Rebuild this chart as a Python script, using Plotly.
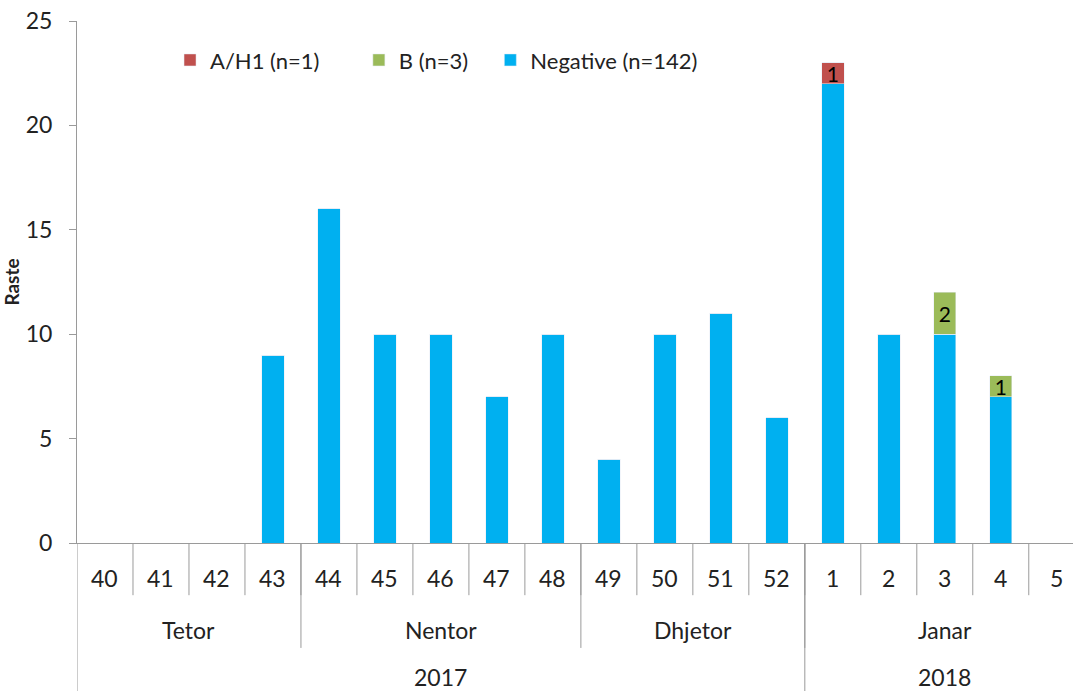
import plotly.graph_objects as go

# ---------- DATA ----------
weeks = ["40", "41", "42", "43", "44", "45", "46", "47", "48",
         "49", "50", "51", "52", "1", "2", "3", "4", "5"]
negative = [0, 0, 0, 9, 16, 10, 10, 7, 10, 4, 10, 11, 6, 22, 10, 10, 7, 0]
ah1 = [0, 0, 0, 0, 0, 0, 0, 0, 0, 0, 0, 0, 0, 1, 0, 0, 0, 0]
flu_b = [0, 0, 0, 0, 0, 0, 0, 0, 0, 0, 0, 0, 0, 0, 0, 2, 1, 0]

months = ["Tetor", "Nentor", "Dhjetor", "Janar"]
month_spans = [(0, 3), (4, 8), (9, 12), (13, 17)]
years = ["2017", "2018"]
year_spans = [(0, 12), (13, 17)]

FONT = "Lato"
GRID = "#9a9a9a"
x = list(range(len(weeks)))


def labels(vals):
    return [str(v) if v else "" for v in vals]


# each series gets its own legend box so the spacing matches the original
fig = go.Figure()
fig.add_trace(go.Bar(x=x, y=negative, name="Negative (n=142)", marker_color="#00B0F0",
                     width=0.4, legend="legend3"))
fig.add_trace(go.Bar(x=x, y=ah1, name="A/H1 (n=1)", marker_color="#C0504D",
                     width=0.4, text=labels(ah1), textposition="inside", textangle=0,
                     insidetextanchor="middle", constraintext="none",
                     textfont=dict(color="black", size=21, family=FONT), legend="legend"))
fig.add_trace(go.Bar(x=x, y=flu_b, name="B (n=3)", marker_color="#9BBB59",
                     width=0.4, text=labels(flu_b), textposition="inside", textangle=0,
                     insidetextanchor="middle", constraintext="none",
                     textfont=dict(color="black", size=21, family=FONT), legend="legend2"))

# ---------- three-level category axis ----------
shapes = []
annotations = []
y_week, y_month, y_year = -0.067, -0.167, -0.256
lab_font = dict(size=23, color="#222", family=FONT)


def label(xv, yv, txt):
    return dict(x=xv, y=yv, xref="x", yref="paper", text=txt, showarrow=False,
                xanchor="center", yanchor="middle", font=lab_font)


for i, w in enumerate(weeks):
    annotations.append(label(i, y_week, w))
    if i < len(weeks) - 1:
        shapes.append(dict(type="line", xref="x", yref="paper", x0=i + 0.5, x1=i + 0.5,
                           y0=0, y1=-0.1, line=dict(color=GRID, width=1)))
for m, (a, b) in zip(months, month_spans):
    annotations.append(label((a + b) / 2, y_month, m))
    if b < len(weeks) - 1:
        shapes.append(dict(type="line", xref="x", yref="paper", x0=b + 0.5, x1=b + 0.5,
                           y0=0, y1=-0.201, line=dict(color=GRID, width=1)))
for yr, (a, b) in zip(years, year_spans):
    annotations.append(label((a + b) / 2, y_year, yr))
    if b < len(weeks) - 1:
        shapes.append(dict(type="line", xref="x", yref="paper", x0=b + 0.5, x1=b + 0.5,
                           y0=0, y1=-0.3, line=dict(color=GRID, width=1)))
# left axis line continues down through the label rows
shapes.append(dict(type="line", xref="x", yref="paper", x0=-0.5, x1=-0.5,
                   y0=0, y1=-0.3, line=dict(color=GRID, width=1)))

leg = dict(orientation="h", y=0.925, yanchor="middle", xanchor="left",
           font=dict(size=22, family=FONT), itemwidth=30, bgcolor="rgba(0,0,0,0)")

fig.update_layout(
    barmode="stack",
    width=1073, height=691,
    margin=dict(l=77, r=0, t=21, b=148),
    plot_bgcolor="white", paper_bgcolor="white",
    font=dict(family=FONT, color="#222"),
    shapes=shapes,
    annotations=annotations,
    showlegend=True,
    legend=dict(leg, x=0.0934),
    legend2=dict(leg, x=0.283),
    legend3=dict(leg, x=0.415),
    xaxis=dict(range=[-0.5, 17.29], showticklabels=False, ticks="", showgrid=False,
               showline=True, linecolor=GRID, zeroline=False, automargin=False),
    yaxis=dict(range=[0, 25], dtick=5, ticks="outside", ticklen=7, tickcolor=GRID,
               showgrid=False, showline=True, linecolor=GRID, zeroline=False,
               automargin=False, ticklabeloverflow="allow",
               tickfont=dict(size=23, family=FONT), ticklabelstandoff=12,
               title=dict(text="<b>Raste</b>", font=dict(size=19, family=FONT), standoff=9)),
)

# drop the default page margin so the figure sits at the window's corner
fig.write_html("out.html", config={"displayModeBar": False},
               post_script="document.body.style.margin = '0';")
